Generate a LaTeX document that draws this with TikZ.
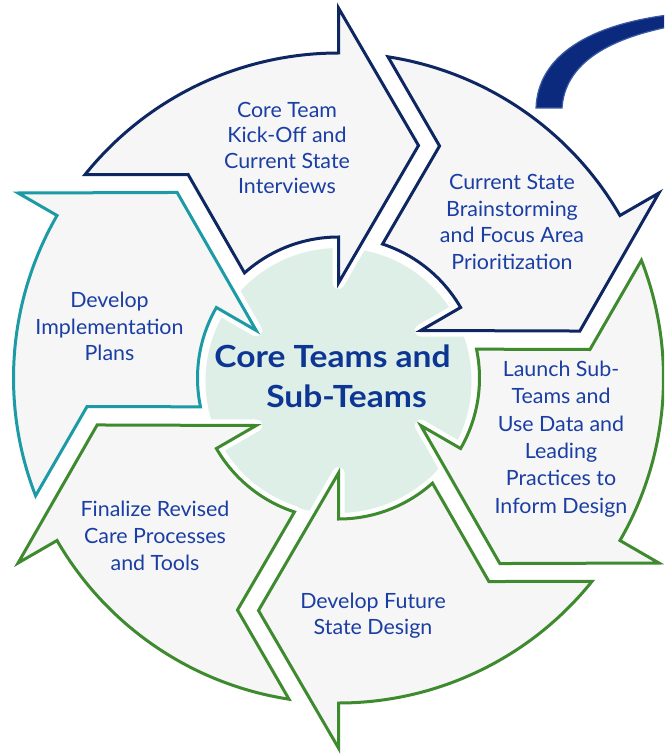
\documentclass[tikz,border=0pt]{standalone}
\usepackage{fontspec}
\setmainfont{Lato}
\newfontfamily\ctrfont{Lato}[FakeStretch=1.1]
\newfontfamily\stepfont{Lato}[FakeStretch=1.02]
\definecolor{navy}{HTML}{0E2763}
\definecolor{tealc}{HTML}{1C9AA6}
\definecolor{grn}{HTML}{3E8A2F}
\definecolor{arrfill}{HTML}{F6F6F6}
\definecolor{circfill}{HTML}{DDEFE6}
\definecolor{txtblue}{HTML}{1A3EA3}
\definecolor{ctrblue}{HTML}{0D3593}
\definecolor{swoosh}{HTML}{0B2A7E}
\definecolor{swooshedge}{HTML}{3B5BA5}
\newcommand\arrowpath{(141.24:325pt) arc[start angle=141.24,end angle=90,radius=325pt] -- (0pt,370pt) -- (80pt,232.5pt) -- (0pt,95pt) -- (0pt,141pt) arc[start angle=90,end angle=131.8,radius=141pt] -- (-150.4pt,203.5pt) -- cycle}
\tikzset{
  halo/.style={draw=white,line width=12pt,line join=round},
  ring/.style={fill=arrfill,line width=3pt,line join=miter},
  steptext/.style={text=txtblue,align=center,font=\stepfont\fontsize{21}{25.5}\selectfont,inner sep=0pt},
  centertext/.style={text=ctrblue,font=\ctrfont\bfseries\fontsize{30.5}{38}\selectfont,inner sep=0pt}
}
\begin{document}
\begin{tikzpicture}[x=1pt,y=1pt]
\useasboundingbox (0,0) rectangle (664,-754);
\clip (0,0) rectangle (664,-754);
% central circle
\fill[circfill] (338.5,-381) circle[radius=133];
% six arrows
\foreach \k/\col in {0/navy,1/navy,2/grn,3/grn,4/grn,5/tealc} {
  \begin{scope}[shift={(338.5,-378)},rotate=-60*\k]
    \draw[halo] \arrowpath;
    \filldraw[ring,draw=\col] \arrowpath;
  \end{scope}
}
% swoosh at top right
\filldraw[fill=swoosh,draw=swooshedge,line width=1.2pt]
  (536,-108) .. controls (538,-55) and (590,-25) .. (668,-15)
  -- (668,-27) .. controls (605,-40) and (565,-65) .. (562,-108) -- cycle;
% texts
\node[steptext] (t1) at (287,-148) {Core Team\\Kick-Off and\\Current State\\Interviews};
\node[steptext,font=\stepfont\fontsize{21}{26.7}\selectfont] (t2) at (512,-222) {Current State\\Brainstorming\\and Focus Area\\Prioritization};
\node[steptext,font=\stepfont\fontsize{21}{27.3}\selectfont] (t3) at (561,-439) {Launch Sub-\\Teams and\\Use Data and\\Leading\\Practices to\\Inform Design};
\node[steptext,font=\stepfont\fontsize{21}{26}\selectfont] (t4) at (373,-616) {Develop Future\\State Design};
\node[steptext,font=\stepfont\fontsize{21}{27}\selectfont] (t5) at (155,-535.5) {Finalize Revised\\Care Processes\\and Tools};
\node[steptext,font=\stepfont\fontsize{21}{26.5}\selectfont] (t6) at (109.5,-326.5) {Develop\\Implementation\\Plans};
\node[centertext] (c1) at (332.5,-356) {Core Teams and};
\node[centertext] (c2) at (346.5,-396) {Sub-Teams};
\end{tikzpicture}
\end{document}
